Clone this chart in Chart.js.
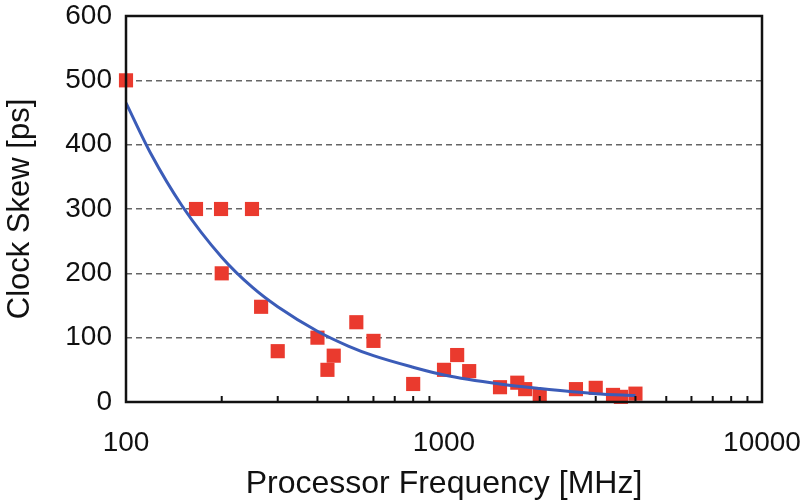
<!DOCTYPE html>
<html>
<head>
<meta charset="utf-8">
<script src="https://cdn.jsdelivr.net/npm/chart.js@4"></script>
<style>
  html, body { margin: 0; padding: 0; background: #fff; }
  #wrap { width: 802px; height: 503px; }
</style>
</head>
<body>
<div id="wrap"><canvas id="skewChart"></canvas></div>
<script>
// ----------------------------------------------------------------
//  Measured data (read off the figure)
// ----------------------------------------------------------------
const freqMHz = [100, 166, 199, 249, 200, 266, 300, 400, 430, 450, 530, 600,
                 800, 1000, 1100, 1200, 1500, 1700, 1800, 2000, 2600, 3000, 3400, 3600, 4000];
const skewPs  = [500, 300, 300, 300, 200, 148, 79, 100, 50, 72, 124, 95,
                 28, 50, 73, 48, 23, 30, 20, 10, 20, 22, 11, 8, 13];

// Fitted trend line
const fitFreq = [100, 120, 150, 200, 250, 300, 400, 500, 600, 800, 1000, 1500, 2000, 3000, 4000];
const fitSkew = [465, 385, 305, 225, 178, 148, 110, 87, 72, 54, 42, 28, 21, 13, 10];

const yTicks = [0, 100, 200, 300, 400, 500, 600];
const xTicks = [100, 1000, 10000];

const FONT = '"Liberation Sans", Arial, sans-serif';

// ----------------------------------------------------------------
//  Frame + minor ticks pointing inward
// ----------------------------------------------------------------
const framePlugin = {
  id: 'frame',
  afterDatasetsDraw(chart) {
    const { ctx, chartArea: a, scales } = chart;
    ctx.save();
    ctx.strokeStyle = '#111';
    ctx.lineWidth = 2;
    ctx.beginPath();
    // minor log ticks on the bottom axis
    for (let dec = 100; dec < 10000; dec *= 10) {
      for (let m = 2; m <= 9; m++) {
        const px = scales.x.getPixelForValue(dec * m);
        ctx.moveTo(px, a.bottom);
        ctx.lineTo(px, a.bottom - 6);
      }
    }
    ctx.stroke();
    ctx.lineWidth = 2.5;
    ctx.strokeRect(a.left, a.top, a.right - a.left, a.bottom - a.top);
    ctx.restore();
  }
};

new Chart(document.getElementById('skewChart'), {
  data: {
    datasets: [{
      type: 'scatter',
      label: 'Clock skew',
      data: freqMHz.map((f, i) => ({ x: f, y: skewPs[i] })),
      pointStyle: 'rect',
      pointRadius: 10,
      pointHoverRadius: 10,
      backgroundColor: '#ea3a2e',
      borderWidth: 0,
      clip: false,
      order: 2
    }, {
      type: 'line',
      label: 'Fit',
      data: fitFreq.map((f, i) => ({ x: f, y: fitSkew[i] })),
      borderColor: '#3b5cb8',
      borderWidth: 3,
      pointRadius: 0,
      fill: false,
      cubicInterpolationMode: 'monotone',
      order: 1
    }]
  },
  options: {
    responsive: true,
    maintainAspectRatio: false,
    animation: false,
    layout: { padding: { top: 16, right: 40, left: 0, bottom: 0 } },
    plugins: { legend: { display: false }, tooltip: { enabled: false } },
    scales: {
      x: {
        type: 'logarithmic',
        min: 100,
        max: 10000,
        afterBuildTicks: s => { s.ticks = xTicks.map(v => ({ value: v })); },
        afterFit: s => { s.height = 101; s.paddingLeft = 0; s.paddingRight = 0; },
        grid: { display: false, drawTicks: false },
        border: { display: false },
        ticks: {
          color: '#111',
          padding: 24,
          maxRotation: 0,
          font: { family: FONT, size: 28 },
          callback: v => String(v)
        },
        title: {
          display: true,
          text: 'Processor Frequency [MHz]',
          color: '#111',
          font: { family: FONT, size: 32 },
          padding: { top: 0, bottom: 0 }
        }
      },
      y: {
        min: 0,
        max: 600,
        afterBuildTicks: s => { s.ticks = yTicks.map(v => ({ value: v })); },
        afterFit: s => { s.width = 126; s.paddingTop = 0; s.paddingBottom = 0; },
        grid: {
          drawTicks: false,
          color: ctx => (ctx.tick.value === 0 || ctx.tick.value === 600) ? 'rgba(0,0,0,0)' : '#666',
          lineWidth: 1.5
        },
        border: { display: false, dash: [6, 4] },
        ticks: {
          color: '#111',
          padding: 14,
          font: { family: FONT, size: 28 }
        },
        title: {
          display: true,
          text: 'Clock Skew [ps]',
          color: '#111',
          font: { family: FONT, size: 31 },
          padding: { top: 2, bottom: 0 }
        }
      }
    }
  },
  plugins: [framePlugin]
});
</script>
</body>
</html>
